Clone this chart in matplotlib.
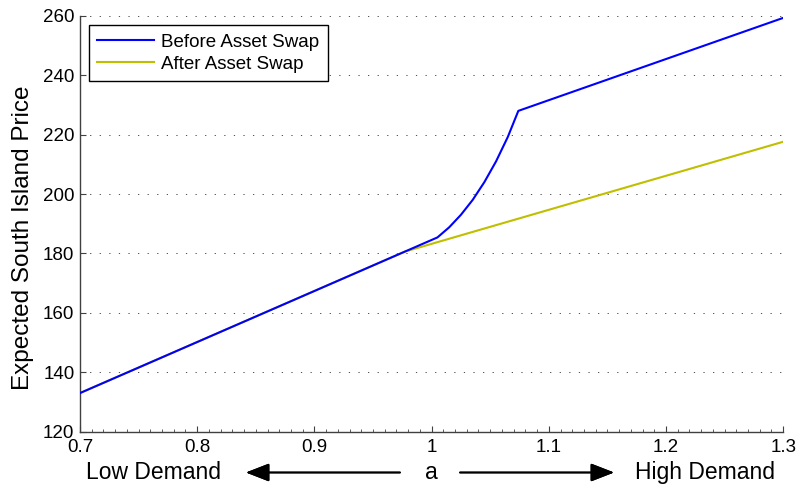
import numpy as np
import matplotlib.pyplot as plt
from matplotlib.ticker import MultipleLocator

plt.rcParams['font.family'] = ['Liberation Sans', 'DejaVu Sans']

# demand factor a and expected price, before / after the swap
a_before = [0.70, 1.005, 1.015, 1.025, 1.035, 1.045, 1.055, 1.065, 1.074, 1.30]
p_before = [133.0, 185.4, 188.8, 193.0, 198.0, 204.0, 211.0, 219.2, 228.0, 259.3]
a_after = [0.70, 0.977, 1.30]
p_after = [133.0, 180.6, 217.6]

x_ticks = [0.7, 0.8, 0.9, 1.0, 1.1, 1.2, 1.3]
x_tick_labels = ['0.7', '0.8', '0.9', '1', '1.1', '1.2', '1.3']
y_ticks = [120, 140, 160, 180, 200, 220, 240, 260]

fig = plt.figure(figsize=(8, 4.91), dpi=100)
ax = fig.add_axes([0.1, 0.1208, 0.879, 0.847])

ax.plot(a_before, p_before, color='#0000ff', lw=1.5, zorder=3, label='Before Asset Swap')
ax.plot(a_after, p_after, color='#bfbf00', lw=1.5, zorder=2, label='After Asset Swap')

ax.set_xlim(0.7, 1.3)
ax.set_ylim(120, 260)
ax.set_xticks(x_ticks)
ax.set_xticklabels(x_tick_labels)
ax.set_yticks(y_ticks)
ax.xaxis.set_minor_locator(MultipleLocator(0.01))

ax.tick_params(axis='both', which='major', direction='in', length=4.5,
               width=0.8, color='#404040', labelsize=13.5, labelcolor='black')
ax.tick_params(axis='x', which='major', pad=5)
ax.tick_params(axis='y', which='major', pad=4)
ax.tick_params(axis='x', which='minor', direction='in', length=2.2, width=0.6, color='#404040')

for side in ['top', 'right']:
    ax.spines[side].set_visible(False)
for side in ['left', 'bottom']:
    ax.spines[side].set_color('#404040')
    ax.spines[side].set_linewidth(1.0)

ax.yaxis.grid(True, color='#333333', linestyle=(0, (1.5, 10)), linewidth=0.6)
ax.set_axisbelow(True)

ax.set_ylabel('Expected South Island Price', fontsize=17.5)
ax.yaxis.set_label_coords(-0.066, 0.466)

leg = ax.legend(loc='upper left', bbox_to_anchor=(0.0128, 0.9776), borderaxespad=0,
                fontsize=13.5, fancybox=False, edgecolor='black', framealpha=1,
                handlelength=3.0, handletextpad=0.4, labelspacing=0.25, borderpad=0.45)
leg.get_frame().set_linewidth(1.0)

# demand direction row beneath the x axis
ty = 1 - 472.5 / 491
fig.text(154 / 800, ty, 'Low Demand', ha='center', va='center', fontsize=16.5)
fig.text(431 / 800, ty, 'a', ha='center', va='center', fontsize=16.5)
fig.text(705 / 800, ty, 'High Demand', ha='center', va='center', fontsize=16.5)
arrow = dict(arrowstyle='-|>,head_length=0.9,head_width=0.35', color='black',
             lw=1.3, mutation_scale=16, shrinkA=0, shrinkB=0)
fig.add_artist(plt.annotate('', xy=(246 / 800, ty), xytext=(400 / 800, ty),
                            xycoords='figure fraction', textcoords='figure fraction',
                            arrowprops=arrow))
fig.add_artist(plt.annotate('', xy=(614 / 800, ty), xytext=(460 / 800, ty),
                            xycoords='figure fraction', textcoords='figure fraction',
                            arrowprops=arrow))

fig.savefig('out.png', dpi=100)
